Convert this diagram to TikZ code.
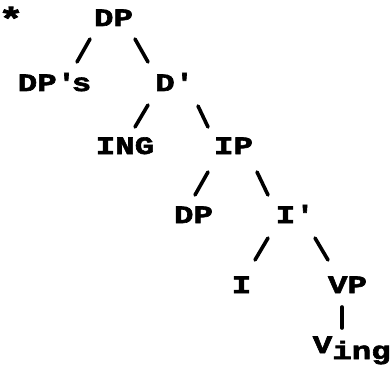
\documentclass[tikz,border=0pt]{standalone}
\usepackage{fontspec}
\newfontfamily\treefont[FakeStretch=1.3,FakeBold=2.5]{Liberation Mono}
\tikzset{
  cat/.style={anchor=base, inner sep=0pt,
    font=\treefont\bfseries\fontsize{25}{25}\selectfont},
  branch/.style={line width=3.6pt, line cap=round},
}
\begin{document}
\begin{tikzpicture}[x=1pt, y=-1pt]
  \useasboundingbox (0,0) rectangle (392,372);

  % the labels, row by row
  \node[cat, font=\treefont\bfseries\fontsize{32}{32}\selectfont] (star) at (11,30) {*};
  \node[cat] (dp) at (113.5,26) {DP};
  \node[cat] (dps) at (54.5,91) {DP\textquotesingle s};
  \node[cat] (dbar) at (172.5,91) {D\textquotesingle};
  \node[cat] (ing) at (125,154) {ING};
  \node[cat] (ip) at (233.5,154) {IP};
  \node[cat] (dplow) at (193.5,223) {DP};
  \node[cat] (ibar) at (293,223) {I\textquotesingle};
  \node[cat] (i) at (241.5,293) {I};
  \node[cat] (vp) at (347.5,293) {VP};
  \node[cat] (ving) at (351.75,353) {V\raisebox{-6pt}{ing}};

  % the branches
  \draw[branch] ([shift={(-23.5,13)}]dp.base) -- ([shift={(22.5,-29)}]dps.base);
  \draw[branch] ([shift={(21.5,13)}]dp.base) -- ([shift={(-24.5,-29)}]dbar.base);
  \draw[branch] ([shift={(-24.5,14)}]dbar.base) -- ([shift={(10,-27)}]ing.base);
  \draw[branch] ([shift={(25.5,15)}]dbar.base) -- ([shift={(-25.5,-27)}]ip.base);
  \draw[branch] ([shift={(-25.5,18)}]ip.base) -- ([shift={(1.5,-28)}]dplow.base);
  \draw[branch] ([shift={(23.5,18)}]ip.base) -- ([shift={(-25,-28)}]ibar.base);
  \draw[branch] ([shift={(-25,15)}]ibar.base) -- ([shift={(13.5,-33)}]i.base);
  \draw[branch] ([shift={(22,15)}]ibar.base) -- ([shift={(-19.5,-33)}]vp.base);
  \draw[branch] ([shift={(-5.5,14)}]vp.base) -- ([shift={(-9.75,-25)}]ving.base);
\end{tikzpicture}
\end{document}
